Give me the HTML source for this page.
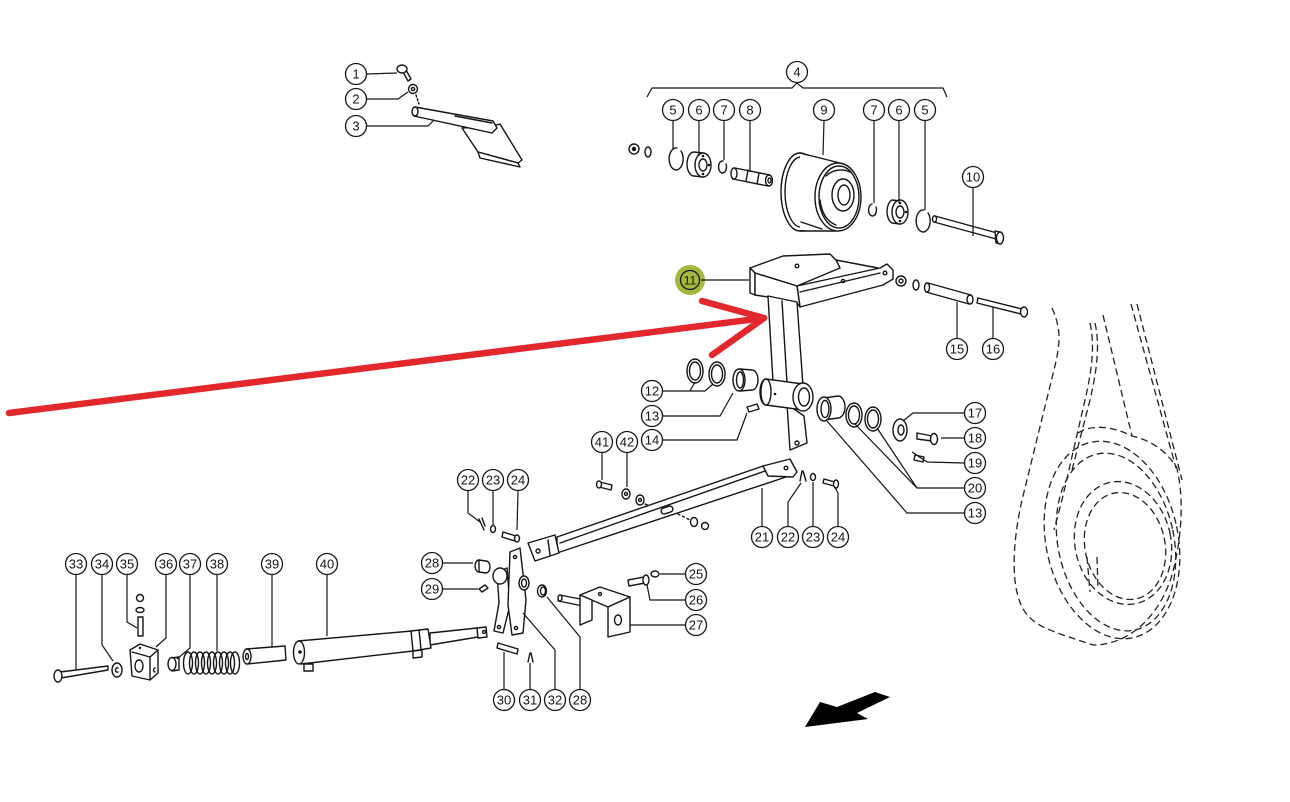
<!DOCTYPE html>
<html><head><meta charset="utf-8"><style>
html,body{margin:0;padding:0;background:#fff;width:1290px;height:802px;overflow:hidden}
svg{display:block}
.s{fill:none;stroke:#151515;stroke-width:1.4;stroke-linejoin:round;stroke-linecap:round}
.w{fill:#fff;stroke:#151515;stroke-width:1.4;stroke-linejoin:round}
.l{fill:none;stroke:#151515;stroke-width:1.2}
.c{fill:#fff;stroke:#151515;stroke-width:1.3}
.t{font-family:"Liberation Sans",sans-serif;font-size:13px;fill:#151515;text-anchor:middle}
.d{fill:none;stroke:#222;stroke-width:1.3;stroke-dasharray:7 4}
.k{fill:#151515}
</style></head><body>
<svg width="1290" height="802" viewBox="0 0 1290 802" xmlns="http://www.w3.org/2000/svg">

<!-- ===== right dashed outline (belt / pulley) ===== -->
<path class="d" d="M1052,308 C1062,330 1060,345 1054,370 L1022,500 C1012,545 1010,590 1025,612 C1035,625 1045,628 1060,634 L1093,645 C1130,645 1160,615 1172,575 C1184,530 1183,490 1176,465"/>
<path class="d" d="M1131,304 L1176,468"/>
<path class="d" d="M1137,304 L1182,480"/>
<path class="d" d="M1090,323 C1095,345 1092,370 1085,400 L1062,500 L1054,530"/>
<path class="d" d="M1095,323 C1100,345 1097,370 1090,400 L1072,470"/>
<path class="d" d="M1103,315 L1132,436"/>
<path class="d" d="M1078,433 C1090,425 1110,425 1132,436 C1150,440 1165,450 1175,465"/>
<ellipse class="d" cx="1112" cy="540" rx="66" ry="100" transform="rotate(-12 1112 540)"/>
<ellipse class="d" cx="1116" cy="542" rx="58" ry="90" transform="rotate(-12 1116 542)"/>
<ellipse class="d" cx="1123" cy="543" rx="48" ry="62" transform="rotate(-12 1123 543)"/>
<ellipse class="d" cx="1125" cy="546" rx="40" ry="54" transform="rotate(-12 1125 546)"/>
<path class="d" d="M1087,557 L1090,592"/>
<path class="d" d="M1097,557 L1098,590"/>

<!-- ===== top-left part 1-3 ===== -->
<path class="w" d="M403,72 L408,81 L411,79 L406,70 Z"/>
<ellipse class="w" cx="402" cy="69" rx="5" ry="4"/>
<circle class="w" cx="413" cy="89" r="4.5"/>
<circle class="s" cx="413" cy="89" r="1.6"/>
<path class="s" stroke-dasharray="2 2" d="M416,95 L419,104"/>
<path class="w" d="M462,128 L478,152 L518,163 L522,160 L500,124 L493,126 Z"/>
<path class="w" d="M478,152 L480,158 L520,167 L518,163 Z"/>
<path class="w" d="M415,107 L493,121 L497,128 L492,133 L414,116 Z"/>
<ellipse class="w" cx="415" cy="111.5" rx="3" ry="4.5"/>
<path class="s" d="M455,116 L492,123"/>
<path class="l" d="M367,74 L397,73"/>
<path class="l" d="M367,99 L398,99 L408,92"/>
<path class="l" d="M367,126 L428,126 L434,120"/>

<!-- ===== pulley assembly 4-10 ===== -->
<path class="l" d="M647,97 L652,88 L792,88 L797,83 L803,88 L943,88 L947,97"/>
<circle class="w" cx="634" cy="149" r="5"/><circle class="k" cx="634" cy="149" r="2.2"/>
<ellipse class="w" cx="648" cy="152" rx="3" ry="5"/>
<path class="s" stroke-width="1.7" d="M677,148 A7,11 0 1 0 681,151"/>
<path class="w" d="M694,152 L703,153 L703,177 L694,176 A7,12 0 0 1 694,152 Z"/>
<ellipse class="w" cx="703" cy="165" rx="8" ry="12"/>
<ellipse class="s" cx="703" cy="165" rx="4" ry="6"/>
<circle class="k" cx="703" cy="156" r="1.3"/><circle class="k" cx="709" cy="165" r="1.3"/><circle class="k" cx="703" cy="174" r="1.3"/>
<path class="s" stroke-width="1.6" d="M723,161 A4,6 0 1 0 726,164"/>
<path class="w" d="M735,168 L770,175 L768,186 L733,179 Z"/>
<ellipse class="w" cx="734" cy="173.5" rx="3" ry="5.5"/>
<ellipse class="w" cx="769" cy="180.5" rx="3.5" ry="5.5"/>
<ellipse class="s" cx="769.5" cy="180.5" rx="1.5" ry="2.5"/>
<path class="s" d="M748,170 L746,181 M759,173 L757,184"/>
<!-- pulley 9 -->
<ellipse class="w" cx="800" cy="192" rx="19" ry="39"/>
<ellipse class="s" cx="801" cy="192" rx="16" ry="35"/>
<path d="M800,154 L840,163 L836,231 L800,230 Z" fill="#fff"/>
<path class="s" d="M800,153 L840,163 M800,231 L836,231"/>
<path class="s" stroke-width="3" d="M801,222 L822,229"/>
<ellipse class="w" cx="838" cy="197" rx="23" ry="34"/>
<ellipse class="s" cx="839" cy="197" rx="20" ry="31"/>
<path class="s" stroke-width="3.2" d="M826,176 C832,170 842,168 850,172"/>
<path class="s" stroke-width="2" d="M820,200 C822,215 828,222 836,225"/>
<ellipse class="w" cx="843" cy="195" rx="11" ry="16"/>
<ellipse class="s" cx="844" cy="195" rx="6" ry="10"/>
<path class="s" stroke-width="1.6" d="M872,204 A4,6 0 1 0 876,207"/>
<path class="w" d="M892,200 L900,201 L900,224 L892,223 A7,12 0 0 1 892,200 Z"/>
<ellipse class="w" cx="900" cy="212" rx="8" ry="12"/>
<ellipse class="s" cx="900" cy="212" rx="4" ry="6"/>
<circle class="k" cx="900" cy="203" r="1.3"/><circle class="k" cx="906" cy="212" r="1.3"/><circle class="k" cx="900" cy="221" r="1.3"/>
<path class="s" stroke-width="1.7" d="M924,210 A7,11 0 1 0 928,213"/>
<path class="w" d="M935,216 L997,233 L996,239 L934,222 Z"/>
<ellipse class="w" cx="934.5" cy="219" rx="2" ry="3.2"/>
<path class="w" d="M995,231 L1000,232 L1003,238 L1001,244 L996,243 Z"/>
<ellipse class="w" cx="1000" cy="238" rx="3.5" ry="6"/>
<path class="l" d="M673,121 L673,150"/>
<path class="l" d="M699,121 L699,156"/>
<path class="l" d="M724,121 L724,160"/>
<path class="l" d="M750,121 L750,172"/>
<path class="l" d="M824,121 L823,155"/>
<path class="l" d="M874,121 L874,203"/>
<path class="l" d="M899,121 L899,203"/>
<path class="l" d="M925,121 L925,210"/>
<path class="l" d="M973,188 L973,236"/>

<!-- ===== bracket 11 ===== -->
<path class="w" d="M797,286 L880,268 L887,264 L893,270 L893,279 L883,285 L800,307 Z"/>
<path class="s" d="M800,292 L880,273"/>
<circle class="s" cx="885" cy="273" r="1.8"/>
<circle class="s" cx="843" cy="281" r="1.6"/>
<path class="w" d="M750,268 L783,256 L830,254 L836,260 L840,268 L797,286 L755,273 Z"/>
<path class="s" d="M836,260 L878,268"/>
<circle class="s" cx="797" cy="266" r="1.8"/>
<path class="w" d="M750,268 L755,273 L755,295 L750,293 Z"/>
<path class="w" d="M755,273 L797,286 L800,307 L797,303 L768,297 L755,295 Z"/>
<path class="w" d="M768,296 L773,382 L803,386 L797,302 Z"/>
<path class="s" d="M782,301 L787,383"/>
<path class="w" d="M787,404 L790,450 L807,443 L804,416 Z"/>
<circle class="s" cx="797" cy="443" r="2"/>
<path class="w" d="M766,379 L803,384 L803,410 L766,405 A6,13 0 0 1 766,379 Z"/>
<ellipse class="w" cx="766" cy="392" rx="5" ry="13"/>
<ellipse class="w" cx="803" cy="397" rx="10" ry="14"/>
<ellipse class="s" cx="804" cy="397" rx="5.5" ry="9"/>
<circle class="k" cx="775" cy="394" r="1.3"/>
<!-- 11 label with green -->
<circle cx="690" cy="280" r="15" fill="#a2b93c"/>
<path class="l" d="M701,280 L749,280"/>

<!-- right of bracket: nut, washer, 15, 16 -->
<circle class="w" cx="901" cy="281" r="5"/><circle class="s" cx="901" cy="281" r="2"/>
<ellipse class="w" cx="916" cy="285" rx="3" ry="5"/>
<path class="w" d="M928,283 L971,295 L969,304 L926,292 Z"/>
<ellipse class="w" cx="927" cy="287.5" rx="2.5" ry="4.5"/>
<ellipse class="w" cx="970" cy="299.5" rx="3" ry="4.5"/>
<path class="w" d="M978,298 L1022,309 L1021,314 L977,303 Z"/>
<ellipse class="w" cx="1024" cy="312" rx="3.5" ry="5"/>
<path class="l" d="M957,338 L957,302"/>
<path class="l" d="M993,338 L993,307"/>

<!-- 12 13 14 -->
<ellipse class="w" cx="695" cy="371" rx="8" ry="12"/><ellipse class="s" cx="695" cy="371" rx="5.5" ry="9"/>
<ellipse class="w" cx="717" cy="374" rx="8" ry="12"/><ellipse class="s" cx="717" cy="374" rx="5.5" ry="9"/>
<path class="w" d="M740,369 L752,370 A6,10 0 0 1 752,390 L740,391 Z"/>
<ellipse class="w" cx="739" cy="380" rx="6" ry="11"/>
<ellipse class="s" cx="740" cy="380" rx="3.5" ry="8"/>
<path class="w" d="M747,407 L757,404 L759,409 L749,412 Z"/>
<path class="l" d="M663,391 L690,391 L695,382 M690,391 L705,391 L713,384"/>
<path class="l" d="M663,416 L720,416 L733,393"/>
<path class="l" d="M663,440 L737,440 L747,413"/>

<!-- right: 17-20, 13 -->
<path class="w" d="M824,398 L838,396 A7,11 0 0 1 838,418 L824,420 Z"/>
<ellipse class="w" cx="824" cy="409" rx="7" ry="12"/>
<ellipse class="s" cx="825" cy="409" rx="4" ry="8.5"/>
<ellipse class="w" cx="854" cy="415" rx="8" ry="12"/><ellipse class="s" cx="854" cy="415" rx="5.5" ry="9"/>
<ellipse class="w" cx="873" cy="419" rx="8" ry="12"/><ellipse class="s" cx="873" cy="419" rx="5.5" ry="9"/>
<ellipse class="w" cx="900" cy="430" rx="7" ry="11"/>
<ellipse class="s" cx="901" cy="430" rx="3" ry="5"/>
<path class="w" d="M917,433 L932,436 L932,441 L917,439 Z"/>
<ellipse class="w" cx="934" cy="439" rx="3.5" ry="5.5"/>
<path class="w" d="M915,455 L924,457 L923,462 L914,460 Z"/>
<path class="l" d="M964,413 L913,413 L903,421"/>
<path class="l" d="M964,438 L941,438"/>
<path class="l" d="M964,463 L927,462 L912,452"/>
<path class="l" d="M964,488 L917,488 L855,424 M917,488 L877,428"/>
<path class="l" d="M964,513 L907,513 L827,421"/>

<!-- 41 42 and bar 21 -->
<path class="w" d="M600,482 L612,485 L611,490 L599,487 Z"/>
<ellipse class="w" cx="599" cy="484.5" rx="2.5" ry="3.5"/>
<ellipse class="w" cx="626" cy="494" rx="4" ry="5"/><circle class="s" cx="626" cy="494" r="1.5"/>
<ellipse class="w" cx="640" cy="500" rx="4" ry="5"/><circle class="s" cx="640" cy="500" r="1.5"/>
<path class="s" d="M645,504 L656,509"/>
<path class="s" stroke-dasharray="2 3" d="M678,514 L690,520"/>
<ellipse class="w" cx="694" cy="522" rx="3.5" ry="4.5"/>
<circle class="w" cx="705" cy="526" r="3.5"/>
<path class="l" d="M602,453 L602,480"/>
<path class="l" d="M627,453 L627,487"/>

<path class="w" d="M557,537 L763,466 L790,460 L795,474 L557,553 Z"/>
<path class="s" d="M560,543 L765,471"/>
<path class="w" d="M763,466 L790,459 L797,472 L793,477 L768,476 Z"/>
<circle class="s" cx="786" cy="468" r="1.8"/>
<path class="w" d="M528,543 L555,535 L559,553 L535,561 Z"/>
<circle class="s" cx="538" cy="551" r="2"/>
<path class="s" d="M548,540 L550,555"/>
<rect class="w" x="661" y="507" width="12" height="6" rx="3" transform="rotate(-18 667 510)"/>
<!-- cotter pins / washers / bolts around bar ends -->
<path class="s" d="M479,519 L484,530 M482,518 L485,526"/>
<ellipse class="w" cx="493" cy="529" rx="2.5" ry="3.5"/>
<path class="w" d="M503,532 L516,536 L515,541 L502,537 Z"/>
<ellipse class="w" cx="517" cy="538.5" rx="2.5" ry="3.5"/>
<path class="s" d="M802,471 L800,481 M803,471 L806,481"/>
<ellipse class="w" cx="813" cy="477" rx="2.5" ry="3.5"/>
<path class="w" d="M824,479 L835,482 L834,486 L823,483 Z"/>
<ellipse class="w" cx="836" cy="484" rx="2.5" ry="4"/>
<path class="l" d="M468,491 L468,513 L480,522"/>
<path class="l" d="M493,491 L493,525"/>
<path class="l" d="M518,491 L517,530"/>
<path class="l" d="M762,526 L762,488"/>
<path class="l" d="M788,526 L788,502 L801,483"/>
<path class="l" d="M813,526 L813,482"/>
<path class="l" d="M838,526 L838,493 L834,486"/>

<!-- lever 32 region -->
<path class="w" d="M497,572 L507,568 L510,605 L503,633 L494,631 L499,603 Z"/>
<circle class="s" cx="499" cy="627" r="1.6"/>
<path class="w" d="M510,552 L520,548 L526,600 L523,633 L512,635 L508,605 Z"/>
<circle class="s" cx="515" cy="557" r="1.6"/>
<circle class="s" cx="516" cy="628" r="1.6"/>
<ellipse class="w" cx="500" cy="576" rx="7" ry="8"/>
<ellipse class="w" cx="524" cy="583" rx="5" ry="7"/><ellipse class="s" cx="524" cy="583" rx="2.5" ry="4"/>
<ellipse class="w" cx="479" cy="566" rx="4" ry="6"/>
<path class="w" d="M479,560 L486,561 A4,6 0 0 1 486,573 L479,572 Z"/>
<path class="w" d="M479,589 L485,585 L488,588 L482,592 Z"/>
<ellipse class="w" cx="542" cy="591" rx="4.5" ry="6"/><ellipse class="s" cx="543" cy="591" rx="2.5" ry="4"/>
<path class="w" d="M498,643 L518,649 L517,654 L497,648 Z"/>
<path class="s" d="M530,653 L528,662 M531,653 L533,662"/>
<path class="l" d="M443,563 L473,563"/>
<path class="l" d="M443,589 L478,589"/>
<path class="l" d="M504,689 L504,652"/>
<path class="l" d="M530,689 L530,663"/>
<path class="l" d="M555,689 L555,650 L523,613"/>
<path class="l" d="M580,689 L580,637 L547,597"/>

<!-- bracket 27, 25, 26 -->
<path class="s" d="M560,595 L585,600 M558,601 L583,606"/>
<ellipse class="w" cx="560" cy="598" rx="2" ry="3"/>
<path class="w" d="M580,595 L600,587 L630,597 L608,607 Z"/>
<path class="w" d="M580,595 L592,600 L592,620 L580,625 Z"/>
<path class="w" d="M608,607 L630,597 L630,632 L608,637 Z"/>
<circle class="s" cx="600" cy="594" r="1.5"/>
<ellipse class="s" cx="618" cy="620" rx="3.5" ry="5"/>
<path class="w" d="M628,580 L644,577 L645,583 L629,586 Z"/>
<ellipse class="w" cx="646" cy="580" rx="3" ry="5"/>
<ellipse class="w" cx="655" cy="574" rx="4" ry="3"/>
<path class="l" d="M685,574 L660,574"/>
<path class="l" d="M685,600 L650,600 L647,585"/>
<path class="l" d="M685,625 L630,625"/>

<!-- bottom-left 33-40 -->
<path class="w" d="M60,672 L108,666 L108,670 L61,678 Z"/>
<ellipse class="w" cx="58" cy="676" rx="4" ry="6"/>
<ellipse class="w" cx="117" cy="670" rx="5" ry="7"/>
<path class="s" d="M118,668 A1.8,2.2 0 1 0 118,672"/>
<circle class="w" cx="140" cy="598" r="3.5"/>
<ellipse class="w" cx="140" cy="610" rx="4" ry="2.5"/>
<path class="w" d="M138,617 L138,636 L143,636 L143,617 Z"/>
<path class="w" d="M130,650 L140,644 L158,650 L158,673 L150,680 L132,676 Z"/>
<path class="s" d="M132,652 L150,657 L158,650 M150,657 L150,680"/>
<ellipse class="s" cx="139" cy="666" rx="4" ry="6"/>
<path class="s" d="M155,668 A1.5,2 0 1 0 155,672"/>
<circle class="k" cx="140" cy="648" r="1.2"/>
<path class="w" d="M172,658 L179,657 L179,670 L172,671 Z"/>
<ellipse class="w" cx="172" cy="664" rx="4" ry="6.5"/>
<g class="s">
<ellipse cx="188" cy="663" rx="4.5" ry="11"/><ellipse cx="194" cy="663" rx="4.5" ry="11"/>
<ellipse cx="200" cy="663" rx="4.5" ry="11"/><ellipse cx="206" cy="663" rx="4.5" ry="11"/>
<ellipse cx="212" cy="663" rx="4.5" ry="11"/><ellipse cx="218" cy="663" rx="4.5" ry="11"/>
<ellipse cx="224" cy="663" rx="4.5" ry="11"/><ellipse cx="230" cy="663" rx="4.5" ry="11"/>
<ellipse cx="235" cy="663" rx="4.5" ry="11"/>
</g>
<path class="w" d="M246,649 L285,646 L286,660 L247,664 Z"/>
<ellipse class="w" cx="247" cy="656.5" rx="4" ry="7.5"/>
<ellipse class="s" cx="247" cy="656.5" rx="1.5" ry="3"/>
<path class="w" d="M298,641 L412,631 L413,651 L301,664 Z"/>
<ellipse class="w" cx="299" cy="652.5" rx="5.5" ry="11.5"/>
<circle class="k" cx="300" cy="652" r="1.8"/>
<path class="w" d="M430,633 L477,628 L478,637 L430,645 Z"/>
<path class="w" d="M477,628 L486,627 L487,637 L478,638 Z"/>
<circle class="s" cx="484" cy="632" r="1.5"/>
<path class="w" d="M411,631 L428,629 L431,648 L413,651 Z"/>
<path class="s" d="M419,630 L421,649"/>
<path class="w" d="M304,664 L313,664 L313,671 L304,671 Z"/>
<path class="w" d="M413,651 L422,650 L422,657 L413,658 Z"/>
<path class="l" d="M76,575 L76,669"/>
<path class="l" d="M102,575 L102,645 L113,661"/>
<path class="l" d="M127,575 L127,622 L137,628"/>
<path class="l" d="M166,575 L166,638 L156,647"/>
<path class="l" d="M190,575 L190,648 L177,659"/>
<path class="l" d="M217,575 L217,651"/>
<path class="l" d="M272,575 L272,647"/>
<path class="l" d="M327,575 L327,636"/>

<!-- bottom black arrow -->
<path fill="#000" d="M805,727 L820,702 L837,707 L875,692 L890,697 L857,713 L868,719 Z"/>

<!-- red arrow -->
<path fill="none" stroke="#e2272d" stroke-width="6.5" stroke-linecap="round" stroke-linejoin="round" d="M9,413 L764,318"/>
<path fill="none" stroke="#e2272d" stroke-width="6.5" stroke-linecap="round" stroke-linejoin="round" d="M702,301 L764,318 L712,355"/>

<!-- ===== labels ===== -->
<g>
<circle class="c" cx="356" cy="74" r="10.5"/><text class="t" x="356" y="78.5">1</text>
<circle class="c" cx="356" cy="99" r="10.5"/><text class="t" x="356" y="103.5">2</text>
<circle class="c" cx="356" cy="126" r="10.5"/><text class="t" x="356" y="130.5">3</text>
<circle class="c" cx="797" cy="72" r="10.5"/><text class="t" x="797" y="76.5">4</text>
<circle class="c" cx="673" cy="110" r="10.5"/><text class="t" x="673" y="114.5">5</text>
<circle class="c" cx="699" cy="110" r="10.5"/><text class="t" x="699" y="114.5">6</text>
<circle class="c" cx="724" cy="110" r="10.5"/><text class="t" x="724" y="114.5">7</text>
<circle class="c" cx="750" cy="110" r="10.5"/><text class="t" x="750" y="114.5">8</text>
<circle class="c" cx="824" cy="110" r="10.5"/><text class="t" x="824" y="114.5">9</text>
<circle class="c" cx="874" cy="110" r="10.5"/><text class="t" x="874" y="114.5">7</text>
<circle class="c" cx="899" cy="110" r="10.5"/><text class="t" x="899" y="114.5">6</text>
<circle class="c" cx="925" cy="110" r="10.5"/><text class="t" x="925" y="114.5">5</text>
<circle class="c" cx="973" cy="177" r="10.5"/><text class="t" x="973" y="181.5">10</text>
<circle cx="690" cy="280" r="9.5" fill="none" stroke="#151515" stroke-width="1.3"/><text class="t" x="690" y="284.5" style="font-size:12px">11</text>
<circle class="c" cx="652" cy="391" r="10.5"/><text class="t" x="652" y="395.5">12</text>
<circle class="c" cx="652" cy="416" r="10.5"/><text class="t" x="652" y="420.5">13</text>
<circle class="c" cx="652" cy="440" r="10.5"/><text class="t" x="652" y="444.5">14</text>
<circle class="c" cx="957" cy="349" r="10.5"/><text class="t" x="957" y="353.5">15</text>
<circle class="c" cx="993" cy="349" r="10.5"/><text class="t" x="993" y="353.5">16</text>
<circle class="c" cx="975" cy="413" r="10.5"/><text class="t" x="975" y="417.5">17</text>
<circle class="c" cx="975" cy="438" r="10.5"/><text class="t" x="975" y="442.5">18</text>
<circle class="c" cx="975" cy="463" r="10.5"/><text class="t" x="975" y="467.5">19</text>
<circle class="c" cx="975" cy="488" r="10.5"/><text class="t" x="975" y="492.5">20</text>
<circle class="c" cx="975" cy="513" r="10.5"/><text class="t" x="975" y="517.5">13</text>
<circle class="c" cx="602" cy="442" r="10.5"/><text class="t" x="602" y="446.5">41</text>
<circle class="c" cx="627" cy="442" r="10.5"/><text class="t" x="627" y="446.5">42</text>
<circle class="c" cx="468" cy="480" r="10.5"/><text class="t" x="468" y="484.5">22</text>
<circle class="c" cx="493" cy="480" r="10.5"/><text class="t" x="493" y="484.5">23</text>
<circle class="c" cx="518" cy="480" r="10.5"/><text class="t" x="518" y="484.5">24</text>
<circle class="c" cx="762" cy="537" r="10.5"/><text class="t" x="762" y="541.5">21</text>
<circle class="c" cx="788" cy="537" r="10.5"/><text class="t" x="788" y="541.5">22</text>
<circle class="c" cx="813" cy="537" r="10.5"/><text class="t" x="813" y="541.5">23</text>
<circle class="c" cx="838" cy="537" r="10.5"/><text class="t" x="838" y="541.5">24</text>
<circle class="c" cx="432" cy="563" r="10.5"/><text class="t" x="432" y="567.5">28</text>
<circle class="c" cx="432" cy="589" r="10.5"/><text class="t" x="432" y="593.5">29</text>
<circle class="c" cx="696" cy="574" r="10.5"/><text class="t" x="696" y="578.5">25</text>
<circle class="c" cx="696" cy="600" r="10.5"/><text class="t" x="696" y="604.5">26</text>
<circle class="c" cx="696" cy="625" r="10.5"/><text class="t" x="696" y="629.5">27</text>
<circle class="c" cx="504" cy="700" r="10.5"/><text class="t" x="504" y="704.5">30</text>
<circle class="c" cx="530" cy="700" r="10.5"/><text class="t" x="530" y="704.5">31</text>
<circle class="c" cx="555" cy="700" r="10.5"/><text class="t" x="555" y="704.5">32</text>
<circle class="c" cx="580" cy="700" r="10.5"/><text class="t" x="580" y="704.5">28</text>
<circle class="c" cx="76" cy="564" r="10.5"/><text class="t" x="76" y="568.5">33</text>
<circle class="c" cx="102" cy="564" r="10.5"/><text class="t" x="102" y="568.5">34</text>
<circle class="c" cx="127" cy="564" r="10.5"/><text class="t" x="127" y="568.5">35</text>
<circle class="c" cx="166" cy="564" r="10.5"/><text class="t" x="166" y="568.5">36</text>
<circle class="c" cx="190" cy="564" r="10.5"/><text class="t" x="190" y="568.5">37</text>
<circle class="c" cx="217" cy="564" r="10.5"/><text class="t" x="217" y="568.5">38</text>
<circle class="c" cx="272" cy="564" r="10.5"/><text class="t" x="272" y="568.5">39</text>
<circle class="c" cx="327" cy="564" r="10.5"/><text class="t" x="327" y="568.5">40</text>
</g>
</svg>
</body></html>
